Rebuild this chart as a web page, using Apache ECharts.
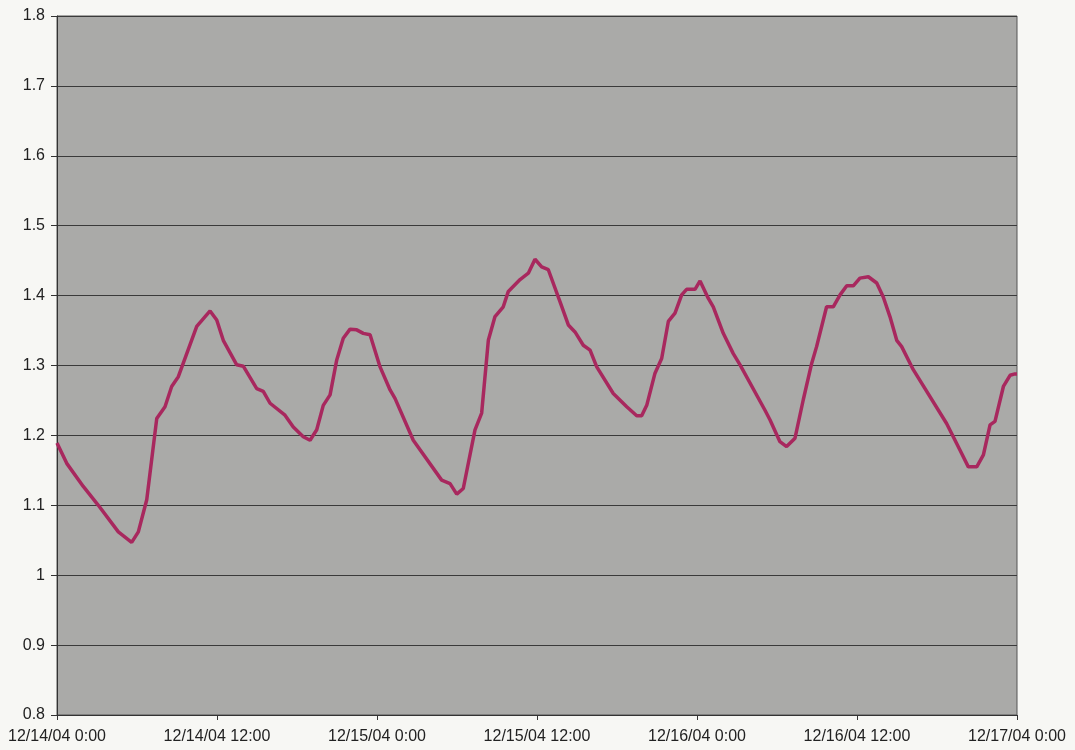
<!DOCTYPE html>
<html><head><meta charset="utf-8">
<script src="https://cdn.jsdelivr.net/npm/echarts@6/dist/echarts.min.js"></script>
<style>html,body{margin:0;padding:0;background:#f7f7f4;}#c{width:1075px;height:750px;}</style>
</head><body><div id="c"></div>
<script>
// hours since 12/14/04 0:00
var hours = [0.00,0.73,1.97,3.10,4.60,5.60,6.10,6.73,7.48,8.10,8.60,9.10,10.48,11.48,11.98,12.47,13.48,13.97,14.98,15.47,15.98,17.10,17.72,18.47,18.98,19.48,19.97,20.48,20.98,21.47,21.98,22.48,22.97,23.48,24.23,24.98,25.35,26.72,28.85,29.48,29.98,30.47,31.35,31.85,32.35,32.85,33.47,33.85,34.73,35.35,35.85,36.35,36.85,37.73,38.35,38.85,39.47,39.98,40.48,41.72,42.73,43.48,43.85,44.23,44.85,45.35,45.85,46.35,46.85,47.22,47.85,48.23,48.85,49.22,49.97,50.72,51.23,53.10,53.48,54.22,54.72,55.35,55.97,56.60,56.97,57.72,58.22,58.73,59.23,59.72,60.22,60.85,61.48,61.97,62.47,62.98,63.35,64.22,66.72,67.72,68.35,68.98,69.48,69.98,70.35,70.98,71.48,71.85,72.00];
var values = [1.189,1.160,1.127,1.100,1.062,1.047,1.062,1.108,1.224,1.241,1.270,1.284,1.356,1.378,1.365,1.336,1.301,1.299,1.267,1.263,1.246,1.229,1.212,1.198,1.193,1.208,1.243,1.258,1.308,1.339,1.352,1.351,1.346,1.344,1.298,1.265,1.253,1.193,1.136,1.131,1.116,1.124,1.208,1.232,1.336,1.370,1.384,1.406,1.423,1.432,1.452,1.441,1.437,1.391,1.358,1.348,1.329,1.322,1.298,1.260,1.241,1.228,1.228,1.243,1.289,1.310,1.363,1.375,1.401,1.409,1.409,1.421,1.396,1.384,1.346,1.317,1.301,1.236,1.222,1.191,1.184,1.196,1.251,1.303,1.327,1.384,1.384,1.401,1.414,1.414,1.425,1.427,1.418,1.398,1.370,1.336,1.327,1.294,1.217,1.179,1.155,1.155,1.172,1.215,1.220,1.270,1.286,1.288,1.288];
var xTickLabels = ['12/14/04 0:00','12/14/04 12:00','12/15/04 0:00','12/15/04 12:00','12/16/04 0:00','12/16/04 12:00','12/17/04 0:00'];

var data = hours.map(function(h,i){return [h, values[i]];});
var chart = echarts.init(document.getElementById('c'));
chart.setOption({
  animation:false,
  backgroundColor:'#f7f7f4',
  grid:{left:57,right:58,top:16,bottom:35,show:true,backgroundColor:'#aaaaa8',borderColor:'#555',borderWidth:1},
  xAxis:{type:'value',min:0,max:72,interval:12,
    axisLine:{show:true,onZero:false,lineStyle:{color:'#333',width:1}},
    axisTick:{show:true,length:5,lineStyle:{color:'#333'}},
    splitLine:{show:false},
    axisLabel:{color:'#222',fontFamily:'Liberation Sans, Arial',fontSize:16,margin:14,
      formatter:function(v){return xTickLabels[Math.round(v/12)]||'';}}},
  yAxis:{type:'value',min:0.8,max:1.8,interval:0.1,
    axisLine:{show:true,lineStyle:{color:'#333',width:1}},
    axisTick:{show:true,length:6,lineStyle:{color:'#333'}},
    splitLine:{show:true,lineStyle:{color:'#3a3a3a',width:1}},
    axisLabel:{color:'#222',fontFamily:'Liberation Sans, Arial',fontSize:16,margin:12,
      formatter:function(v){return String(Math.round(v*10)/10);}}},
  series:[{type:'line',data:data,showSymbol:false,smooth:false,
    lineStyle:{color:'#a8285e',width:3.5},itemStyle:{color:'#a8285e'}}]
});
</script></body></html>
